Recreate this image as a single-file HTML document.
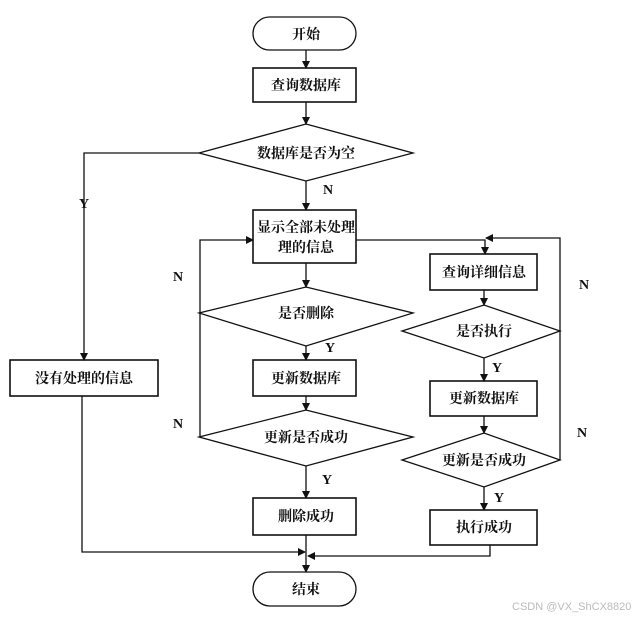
<!DOCTYPE html>
<html><head><meta charset="utf-8"><style>
body{margin:0;background:#fff}
text{font-family:"Liberation Serif","Noto Serif CJK SC",serif;font-weight:bold;font-size:14px;fill:#111}
</style></head><body>
<svg width="634" height="616" viewBox="0 0 634 616" xmlns="http://www.w3.org/2000/svg">
<defs><marker id="a" markerWidth="8" markerHeight="8" refX="7" refY="4" orient="auto" markerUnits="userSpaceOnUse"><path d="M0,0 L8,4 L0,8 z" fill="#111"/></marker></defs>
<g stroke="#111" stroke-width="1.3" fill="none">
<rect x="253" y="17" width="103" height="33" rx="16.5" fill="#fff"/>
<rect x="253" y="68" width="103" height="34" stroke-width="1.6"/>
<polygon points="199,153 306,124 413,153 306,181"/>
<rect x="253" y="210" width="103" height="53" stroke-width="1.6"/>
<polygon points="199,313 306,287 413,313 306,346"/>
<rect x="253" y="360" width="103" height="36" stroke-width="1.6"/>
<polygon points="199,437 306,410 413,437 306,466"/>
<rect x="253" y="498" width="103" height="37" stroke-width="1.6"/>
<rect x="253" y="572" width="103" height="34" rx="17"/>
<rect x="10" y="360" width="148" height="36" stroke-width="1.6"/>
<rect x="430" y="254" width="107" height="36" stroke-width="1.6"/>
<polygon points="402,331 484,305 560,331 484,358"/>
<rect x="430" y="381" width="107" height="35" stroke-width="1.6"/>
<polygon points="402,460 484,433 560,460 484,487"/>
<rect x="430" y="510" width="107" height="35" stroke-width="1.6"/>
<!-- connectors -->
<line x1="306" y1="50" x2="306" y2="68" marker-end="url(#a)"/>
<line x1="306" y1="102" x2="306" y2="124" marker-end="url(#a)"/>
<line x1="306" y1="181" x2="306" y2="210" marker-end="url(#a)"/>
<polyline points="199,153 84,153 84,360" marker-end="url(#a)"/>
<line x1="306" y1="263" x2="306" y2="287" marker-end="url(#a)"/>
<line x1="306" y1="346" x2="306" y2="360" marker-end="url(#a)"/>
<line x1="306" y1="396" x2="306" y2="410" marker-end="url(#a)"/>
<line x1="306" y1="466" x2="306" y2="498" marker-end="url(#a)"/>
<line x1="306" y1="535" x2="306" y2="572" marker-end="url(#a)"/>
<polyline points="199,313 200,313 200,240 253,240" marker-end="url(#a)"/>
<line x1="200" y1="313" x2="200" y2="437"/>
<polyline points="356,240 485,240 485,254" marker-end="url(#a)"/>
<polyline points="560,331 560,238 486,238" marker-end="url(#a)"/>
<line x1="560" y1="331" x2="560" y2="460"/>
<line x1="484" y1="290" x2="484" y2="305" marker-end="url(#a)"/>
<line x1="484" y1="358" x2="484" y2="381" marker-end="url(#a)"/>
<line x1="484" y1="416" x2="484" y2="433" marker-end="url(#a)"/>
<line x1="484" y1="487" x2="484" y2="510" marker-end="url(#a)"/>
<polyline points="82,396 82,552 305,552" marker-end="url(#a)"/>
<polyline points="490,545 490,556 308,556" marker-end="url(#a)"/>
</g>
<g text-anchor="middle">
<text x="306" y="39">开始</text>
<text x="306" y="90">查询数据库</text>
<text x="306" y="158">数据库是否为空</text>
<text x="306" y="232">显示全部未处理</text>
<text x="306" y="252">理的信息</text>
<text x="306" y="318">是否删除</text>
<text x="306" y="383">更新数据库</text>
<text x="306" y="442">更新是否成功</text>
<text x="306" y="521">删除成功</text>
<text x="306" y="594">结束</text>
<text x="84" y="383">没有处理的信息</text>
<text x="484" y="277">查询详细信息</text>
<text x="484" y="336">是否执行</text>
<text x="484" y="403">更新数据库</text>
<text x="484" y="465">更新是否成功</text>
<text x="484" y="532">执行成功</text>
<text x="84" y="208">Y</text>
<text x="328" y="194">N</text>
<text x="178" y="281">N</text>
<text x="178" y="428">N</text>
<text x="330" y="352">Y</text>
<text x="327" y="484">Y</text>
<text x="497" y="372">Y</text>
<text x="499" y="502">Y</text>
<text x="584" y="289">N</text>
<text x="582" y="437">N</text>
</g>
<text x="512" y="610" style="font-family:'Liberation Sans',sans-serif;font-weight:normal;font-size:11px;fill:#bbb">CSDN @VX_ShCX8820</text>
</svg>
</body></html>
